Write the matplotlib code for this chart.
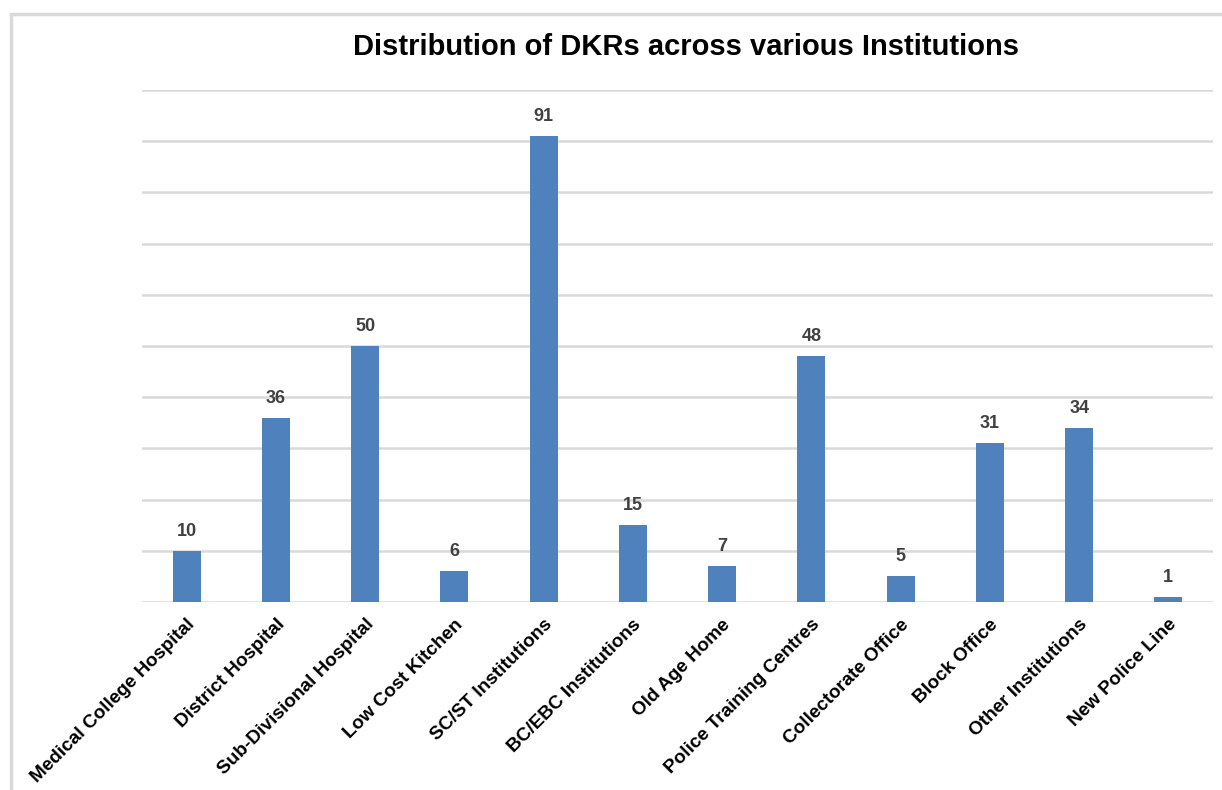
import matplotlib.pyplot as plt
from matplotlib.patches import Rectangle

plt.rcParams['font.family'] = ['Liberation Sans', 'DejaVu Sans']

institutions = [
    'Medical College Hospital',
    'District Hospital',
    'Sub-Divisional Hospital',
    'Low Cost Kitchen',
    'SC/ST Institutions',
    'BC/EBC Institutions',
    'Old Age Home',
    'Police Training Centres',
    'Collectorate Office',
    'Block Office',
    'Other Institutions',
    'New Police Line'
]
dkrs = [10, 36, 50, 6, 91, 15, 7, 48, 5, 31, 34, 1]
grid_levels = list(range(0, 101, 10))

fig = plt.figure(figsize=(12.22, 7.90), dpi=100)
ax = fig.add_axes([142 / 1222, 1 - 602 / 790, (1213 - 142) / 1222, (602 - 90) / 790])

# outer frame of the chart area (right and bottom edges fall outside the image)
fig.patches.append(Rectangle((11 / 1222, -0.05), 1.0, 1.05 - 14 / 790,
                             transform=fig.transFigure, fill=False,
                             edgecolor='#D9D9D9', linewidth=2.5))

x = list(range(len(institutions)))
bars = ax.bar(x, dkrs, width=0.314, color='#4F81BD', zorder=3)

for lvl in grid_levels:
    ax.axhline(lvl, color='#D9D9D9', linewidth=1.8, zorder=1)

for b, v in zip(bars, dkrs):
    ax.annotate(str(v), (b.get_x() + b.get_width() / 2, v), xytext=(0, 8),
                textcoords='offset points', ha='center', va='bottom',
                fontsize=13, fontweight='bold', color='#404040')

ax.set_xlim(-0.5, len(institutions) - 0.5)
ax.set_ylim(0, 100)
ax.set_yticks([])
ax.set_xticks(x)
ax.set_xticklabels(institutions, rotation=45, ha='right', va='top',
                   rotation_mode='anchor', fontsize=13.7, fontweight='bold')
ax.tick_params(axis='x', length=0, pad=10)
for s in ax.spines.values():
    s.set_visible(False)

fig.text(686 / 1222, 1 - 47 / 790, 'Distribution of DKRs across various Institutions',
         ha='center', va='center', fontsize=21, fontweight='bold')

fig.savefig('out.png', dpi=100)
